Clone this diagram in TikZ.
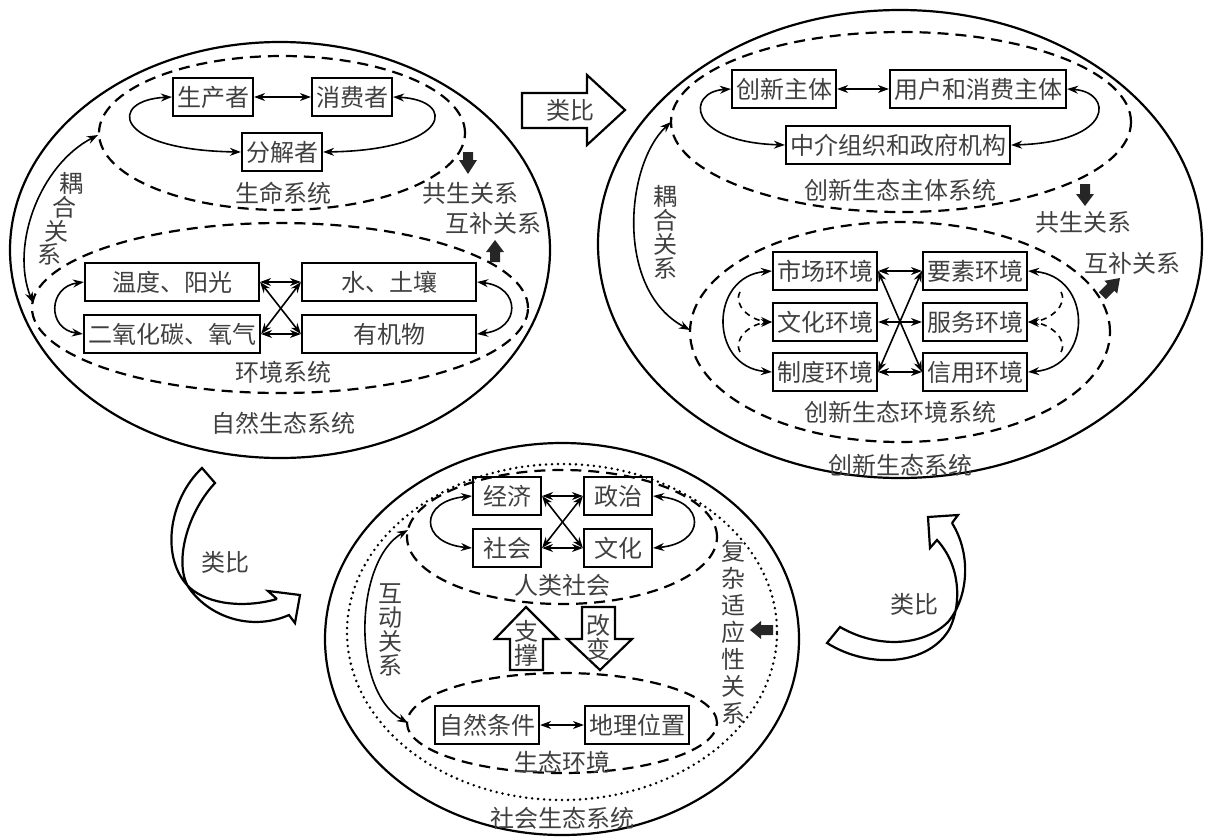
\documentclass[tikz,border=0pt]{standalone}
\usepackage{fontspec}
\usepackage{tikz}
\usetikzlibrary{arrows.meta,positioning}
\newfontfamily\cjk{Noto Sans CJK SC}
\definecolor{txt}{gray}{0.25}

\tikzset{
  box/.style={draw, line width=2.2pt, minimum height=38pt, inner xsep=4pt, inner ysep=2pt, text=txt},
  lbl/.style={text=txt, inner sep=0pt},
  col/.style={text=txt, align=center, inner sep=0pt},
  link/.style={<->, line width=1.6pt},
  oneway/.style={->, line width=1.6pt, dash pattern=on 6pt off 5pt},
  ring/.style={line width=2.2pt},
  dashring/.style={line width=2.2pt, dash pattern=on 11pt off 7pt},
  dotring/.style={line width=2.8pt, dash pattern=on 0pt off 6pt, line cap=round},
  hollow/.style={line width=2.2pt, line join=miter},
  blockarrow/.style={fill=black!85},
}

\begin{document}
\begin{tikzpicture}[x=1pt, y=-1pt, >={Stealth[length=11pt,width=8pt]},
    font=\cjk\fontsize{24}{24}\selectfont]
    \useasboundingbox (0,0) rectangle (1205,836);

    % Natural ecosystem
    \draw[ring] (280,250) ellipse [x radius=270pt, y radius=208pt];
    \draw[dashring] (282,133) ellipse [x radius=183pt, y radius=77pt];
    \draw[dashring] (280,308) ellipse [x radius=248pt, y radius=85pt];

    \node[box] (prod) at (213,97) {生产者};
    \node[box] (cons) at (352,97) {消费者};
    \node[box] (decomp) at (282,152) {分解者};
    \draw[link] (prod) -- (cons);
    \draw[link] (prod.west) .. controls +(-64,3) and +(-129,-2) .. (decomp.west);
    \draw[link] (cons.east) .. controls +(64,3) and +(129,-2) .. (decomp.east);

    \node[box, minimum width=174pt] (temp) at (172,282) {温度、阳光};
    \node[box, minimum width=174pt] (water) at (389,282) {水、土壤};
    \node[box, minimum width=174pt] (co2) at (172,334) {二氧化碳、氧气};
    \node[box, minimum width=174pt] (organic) at (389,334) {有机物};
    \draw[link] (temp) -- (water);
    \draw[link] (co2) -- (organic);
    \draw[link] (temp.east) -- (organic.west);
    \draw[link] (water.west) -- (co2.east);
    \draw[link] (temp.west) .. controls +(-36,5) and +(-36,-5) .. (co2.west);
    \draw[link] (water.east) .. controls +(44,5) and +(44,-5) .. (organic.east);

    \node[lbl] (life) at (283,193) {生命系统};
    \node[lbl] (envL) at (283,372) {环境系统};
    \node[lbl] (natural) at (283,423) {自然生态系统};
    \node[lbl] (symL) at (470,193) {共生关系};
    \node[lbl] (compL) at (493,223) {互补关系};
    \foreach \ch/\cx/\cy [count=\i] in {耦/71/183, 合/64/207, 关/56/231, 系/49/254}
        \node[lbl] (coupleL\i) at (\cx,\cy) {\ch};

    \coordinate (lifeL) at (98,135);
    \coordinate (envLL) at (33,303);
    \draw[link] (lifeL) .. controls (40,165) and (10,245) .. (envLL);

    \fill[blockarrow] (463,152) -- (473,152) -- (473,160) -- (477,160) -- (468,174) -- (459,160) -- (463,160) -- cycle;
    \fill[blockarrow] (495,240) -- (504,252) -- (500,252) -- (500,262) -- (490,262) -- (490,252) -- (486,252) -- cycle;

    % Innovation ecosystem
    \draw[ring] (900,244) ellipse [x radius=302pt, y radius=234pt];
    \draw[dashring] (901,122) ellipse [x radius=230pt, y radius=90pt];
    \draw[dashring] (900,332) ellipse [x radius=210pt, y radius=110pt];

    \node[box] (subj) at (784,89) {创新主体};
    \node[box] (user) at (978,89) {用户和消费主体};
    \node[box] (agency) at (898,145) {中介组织和政府机构};
    \draw[link] (subj) -- (user);
    \draw[link] (subj.west) .. controls +(-45,3) and +(-98,-3) .. (agency.west);
    \draw[link] (user.east) .. controls +(46,3) and +(104,-3) .. (agency.east);

    \node[box] (market) at (825,271) {市场环境};
    \node[box] (factor) at (975,271) {要素环境};
    \node[box] (culture) at (825,322) {文化环境};
    \node[box] (service) at (975,322) {服务环境};
    \node[box] (inst) at (825,372) {制度环境};
    \node[box] (credit) at (975,372) {信用环境};
    \draw[link] (market) -- (factor);
    \draw[link] (culture) -- (service);
    \draw[link] (inst) -- (credit);
    \draw[link] (market.east) -- (credit.west);
    \draw[link] (factor.west) -- (inst.east);
    \draw[link] (market.west) .. controls +(-63,5) and +(-63,-5) .. (inst.west);
    \draw[link] (factor.east) .. controls +(65,5) and +(65,-5) .. (credit.east);

    \coordinate (mktloop) at (740,292);
    \coordinate (instloop) at (740,352);
    \coordinate (facloop) at (1061,292);
    \coordinate (credloop) at (1061,352);
    \draw[oneway] (mktloop) .. controls (733,305) and (750,320) .. (culture.west);
    \draw[oneway] (instloop) .. controls (733,339) and (750,324) .. (culture.west);
    \draw[oneway] (facloop) .. controls (1068,305) and (1050,320) .. (service.east);
    \draw[oneway] (credloop) .. controls (1068,339) and (1050,324) .. (service.east);

    \node[lbl] (subjsys) at (900,190) {创新生态主体系统};
    \node[lbl] (envsys) at (900,412) {创新生态环境系统};
    \node[lbl] (innov) at (900,465) {创新生态系统};
    \node[lbl] (symR) at (1083,222) {共生关系};
    \node[lbl] (compR) at (1132,263) {互补关系};
    \node[col] (coupleR) at (665,232) {耦\\合\\关\\系};

    \coordinate (subjL) at (671,122);
    \coordinate (envRL) at (690,330);
    \draw[link] (subjL) .. controls (625,165) and (615,290) .. (envRL);

    \fill[blockarrow] (1080,184) -- (1090,184) -- (1090,194) -- (1094,194) -- (1085,206) -- (1076,194) -- (1080,194) -- cycle;
    \fill[blockarrow] (1120,278) -- (1117.2,293.6) -- (1114.3,290.7) -- (1105.8,299.2) -- (1098.8,292.2) -- (1107.3,283.7) -- (1104.4,280.8) -- cycle;

    % Social ecosystem
    \draw[ring] (562,639) ellipse [x radius=237pt, y radius=196pt];
    \draw[dotring] (562,632) ellipse [x radius=215pt, y radius=168pt];
    \draw[dashring] (562,537) ellipse [x radius=155pt, y radius=67pt];
    \draw[dashring] (562,723) ellipse [x radius=155pt, y radius=50pt];

    \node[box, minimum width=68pt] (econ) at (507,496) {经济};
    \node[box, minimum width=68pt] (polit) at (618,496) {政治};
    \node[box, minimum width=68pt] (society) at (507,548) {社会};
    \node[box, minimum width=68pt] (cult) at (618,548) {文化};
    \draw[link] (econ) -- (polit);
    \draw[link] (society) -- (cult);
    \draw[link] (econ.east) -- (cult.west);
    \draw[link] (polit.west) -- (society.east);
    \draw[link] (econ.west) .. controls +(-53,5) and +(-53,-5) .. (society.west);
    \draw[link] (polit.east) .. controls +(53,5) and +(53,-5) .. (cult.east);

    \node[box] (nature) at (487,725) {自然条件};
    \node[box] (geo) at (637,725) {地理位置};
    \draw[link] (nature) -- (geo);

    \node[lbl] (human) at (562,585) {人类社会};
    \node[lbl] (ecoenv) at (562,762) {生态环境};
    \node[lbl] (social) at (562,818) {社会生态系统};
    \node[col] (interact) at (390,630) {互\\动\\关\\系};
    \node[col, font=\cjk\fontsize{24}{27}\selectfont] (adapt) at (733,632) {复\\杂\\适\\应\\性\\关\\系};

    \coordinate (humanL) at (408,530);
    \coordinate (ecoL) at (408,723);
    \draw[link] (humanL) .. controls (355,560) and (350,690) .. (ecoL);

    \fill[blockarrow] (750,630) -- (761,621) -- (761,625) -- (773,625) -- (773,635) -- (761,635) -- (761,639) -- cycle;

    \draw[hollow] (526,607) -- (558,639) -- (543,639) -- (543,670) -- (510,670) -- (510,639) -- (495,639) -- cycle;
    \draw[hollow] (582,607) -- (615,607) -- (615,639) -- (632,639) -- (600,670) -- (567,639) -- (582,639) -- cycle;
    \node[col] (support) at (526,643) {支\\撑};
    \node[col] (change) at (598,637) {改\\变};

    % Analogy arrows
    \draw[hollow] (522,93) -- (587,93) -- (587,75) -- (625,110) -- (587,145) -- (587,128) -- (522,128) -- cycle;
    \node[lbl] (anaTop) at (570,110) {类比};

    \draw[hollow] (277,599) -- (268,591) -- (300,595) -- (295,623) -- (289,615)
        .. controls (255,630) and (215,620) .. (192,592)
        .. controls (172,570) and (185,515) .. (215,483) -- (202,468)
        .. controls (168,500) and (160,560) .. (190,588)
        .. controls (210,605) and (245,608) .. (277,599);
    \node[lbl] (anaLeft) at (225,562) {类比};

    \draw[hollow] (952,523) -- (958,515) -- (928,517) -- (930,548) -- (937,540)
        .. controls (960,565) and (962,602) .. (950,628)
        .. controls (930,665) and (870,670) .. (827,643) -- (840,627)
        .. controls (880,650) and (925,645) .. (948,622)
        .. controls (968,598) and (972,555) .. (952,523);
    \node[lbl] (anaRight) at (914,604) {类比};
\end{tikzpicture}
\end{document}
